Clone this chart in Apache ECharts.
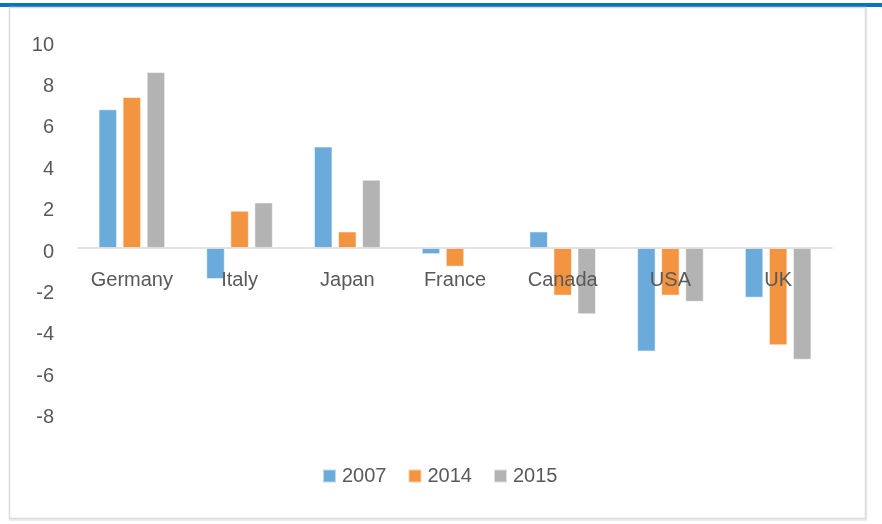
<!DOCTYPE html>
<html>
<head>
<meta charset="utf-8">
<script src="https://cdn.jsdelivr.net/npm/echarts@6/dist/echarts.min.js"></script>
<style>
  html, body { margin: 0; padding: 0; background: #fff; }
  #chart { width: 882px; height: 524px; }
</style>
</head>
<body>
<div id="chart"></div>
<script>
// chart data
var countries = ['Germany', 'Italy', 'Japan', 'France', 'Canada', 'USA', 'UK']
var years = ['2007', '2014', '2015']
var data2007 = [6.7, -1.5, 4.9, -0.3, 0.8, -5.0, -2.4]
var data2014 = [7.3, 1.8, 0.8, -0.9, -2.3, -2.3, -4.7]
var data2015 = [8.5, 2.2, 3.3, 0, -3.2, -2.6, -5.4]
var colors = ['#6BABDC', '#F39440', '#B3B3B3']

var chart = echarts.init(document.getElementById('chart'))

var font = 'Liberation Sans, Arial, sans-serif'
var textColor = '#595959'

// plot box (value axis -8..10)
var gridTop = 41
var gridBottom = 110.4
var plotH = 524 - gridTop - gridBottom
var yMin = -8, yMax = 10
// move the category axis up to the zero line
var zeroOffset = -plotH * (0 - yMin) / (yMax - yMin)

function barSeries(name, values, color) {
  return {
    name: name,
    type: 'bar',
    data: values,
    barWidth: 18.5,
    barGap: '30%',
    itemStyle: {
      color: color,
      borderColor: 'rgba(255,255,255,0.55)',
      borderWidth: 1
    }
  }
}

chart.setOption({
  animation: false,
  textStyle: { fontFamily: font },
  graphic: [
    // blue band on top
    { type: 'rect', shape: { x: 0, y: 3, width: 882, height: 4 }, style: { fill: '#0A73BE' } },
    // frame
    { type: 'rect', shape: { x: 9.5, y: 7.5, width: 856, height: 511 }, style: { fill: 'none', stroke: '#DADADA', lineWidth: 1.5 } },
    { type: 'line', shape: { x1: 866.5, y1: 7, x2: 866.5, y2: 520 }, style: { stroke: '#E6E6E6', lineWidth: 1.5 } },
    { type: 'line', shape: { x1: 9, y1: 520, x2: 867, y2: 520 }, style: { stroke: '#E6E6E6', lineWidth: 1.5 } }
  ],
  grid: {
    left: 78,
    right: 50,
    top: gridTop,
    bottom: gridBottom
  },
  legend: {
    data: years,
    left: 322,
    top: 466,
    padding: 0,
    icon: 'rect',
    itemWidth: 13,
    itemHeight: 13,
    itemGap: 21,
    textStyle: {
      fontFamily: font,
      fontSize: 20,
      color: textColor,
      padding: [0, 0, 0, 1]
    }
  },
  xAxis: {
    type: 'category',
    data: countries,
    z: 5,
    offset: zeroOffset,
    axisLine: { onZero: false, lineStyle: { color: '#D9D9D9', width: 1.5 } },
    axisTick: { show: false },
    axisLabel: {
      fontFamily: font,
      fontSize: 20,
      color: textColor,
      margin: 22
    },
    splitLine: { show: false }
  },
  yAxis: {
    type: 'value',
    min: yMin,
    max: yMax,
    interval: 2,
    axisLine: { show: false },
    axisTick: { show: false },
    splitLine: { show: false },
    axisLabel: {
      margin: 24,
      formatter: '{v|{value}}',
      rich: {
        v: {
          fontFamily: font,
          fontSize: 20,
          color: textColor,
          padding: [8, 0, 0, 0]
        }
      }
    }
  },
  series: [
    barSeries(years[0], data2007, colors[0]),
    barSeries(years[1], data2014, colors[1]),
    barSeries(years[2], data2015, colors[2])
  ]
})
</script>
</body>
</html>
